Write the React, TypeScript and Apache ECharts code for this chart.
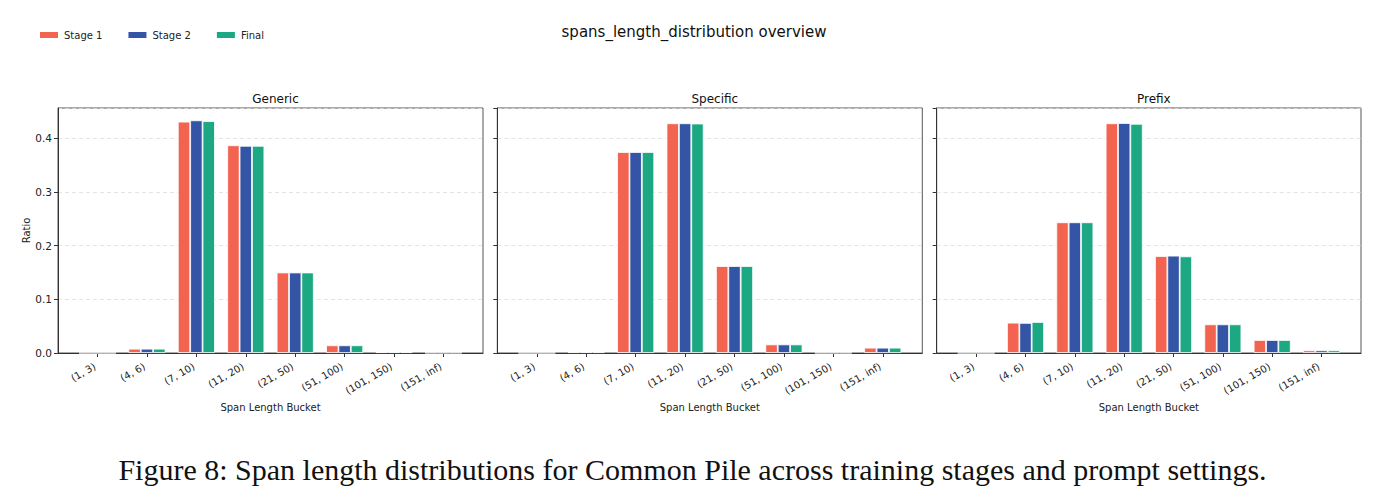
import React, { useEffect, useRef } from "react";
import * as echarts from "echarts";

const categories = ["(1, 3)", "(4, 6)", "(7, 10)", "(11, 20)", "(21, 50)", "(51, 100)", "(101, 150)", "(151, inf)"];
const seriesNames = ["Stage 1", "Stage 2", "Final"];
const colors = ["#F26350", "#3455A5", "#1BA882"];
const panelTitles = ["Generic", "Specific", "Prefix"];

const genericStage1 = [0, 0.008, 0.431, 0.387, 0.150, 0.0143, 0.0018, 0.0003];
const genericStage2 = [0, 0.008, 0.4335, 0.386, 0.150, 0.0143, 0.0018, 0.0003];
const genericFinal = [0, 0.008, 0.432, 0.386, 0.150, 0.0143, 0.0018, 0.0003];

const specificStage1 = [0, 0.002, 0.3745, 0.428, 0.162, 0.016, 0.0002, 0.0099];
const specificStage2 = [0, 0.002, 0.3745, 0.428, 0.162, 0.016, 0.0002, 0.0099];
const specificFinal = [0, 0.002, 0.3745, 0.4275, 0.162, 0.016, 0.0002, 0.0099];

const prefixStage1 = [0, 0.0565, 0.2435, 0.428, 0.1807, 0.0534, 0.0242, 0.005];
const prefixStage2 = [0, 0.056, 0.2435, 0.4285, 0.1813, 0.0534, 0.0242, 0.005];
const prefixFinal = [0, 0.0578, 0.2435, 0.427, 0.180, 0.0534, 0.0242, 0.005];

const panels = [
  [genericStage1, genericStage2, genericFinal],
  [specificStage1, specificStage2, specificFinal],
  [prefixStage1, prefixStage2, prefixFinal],
];

const yMax = 0.4565;
const FONT = "DejaVu Sans";

export default function App() {
  const ref = useRef<HTMLDivElement>(null);
  useEffect(() => {
    if (!ref.current) return;
    const chart = echarts.init(ref.current, null, { renderer: "svg" });
    const frameLefts = [58, 497.3, 936.7];
    const frameWidths = [425, 425, 424.3];
    const top = 108;
    const height = 245;

    const grids: any[] = [];
    const xAxes: any[] = [];
    const yAxes: any[] = [];
    const series: any[] = [];

    frameLefts.forEach((fl, i) => {
      const fw = frameWidths[i];
      const unit = fw / 8.6;
      grids.push({
        left: fl,
        top,
        width: fw,
        height,
        show: true,
        borderColor: "#555",
        borderWidth: 1,
        backgroundColor: "transparent",
      });
      grids.push({
        left: fl + 0.3 * unit,
        top,
        width: 8 * unit,
        height,
        show: false,
      });
      const fg = 2 * i;
      const dg = 2 * i + 1;
      xAxes.push({
        type: "value",
        gridIndex: fg,
        min: 0,
        max: 1,
        axisLine: { show: true, lineStyle: { color: "#333", width: 1 } },
        axisTick: { show: false },
        axisLabel: { show: false },
        splitLine: { show: false },
        name: "Span Length Bucket",
        nameLocation: "middle",
        nameGap: 49,
        nameTextStyle: { fontFamily: FONT, fontSize: 10, color: "#222" },
      });
      xAxes.push({
        type: "category",
        gridIndex: dg,
        data: categories,
        axisLine: { show: false },
        axisTick: { show: true, alignWithLabel: true, length: 4, lineStyle: { color: "#333" } },
        axisLabel: {
          rotate: 30,
          interval: 0,
          fontFamily: FONT,
          fontSize: 10,
          color: "#222",
          margin: 11,
          padding: [0, 3, 0, 0],
        },
        splitLine: { show: false },
      });
      yAxes.push({
        type: "value",
        gridIndex: fg,
        min: 0,
        max: yMax,
        interval: 0.1,
        name: i === 0 ? "Ratio" : "",
        nameLocation: "middle",
        nameGap: 26,
        nameRotate: 90,
        nameTextStyle: { fontFamily: FONT, fontSize: 10, color: "#222" },
        axisLine: { show: true, lineStyle: { color: "#333", width: 1 } },
        axisTick: { show: true, length: 4, lineStyle: { color: "#333" } },
        axisLabel: {
          show: i === 0,
          fontFamily: FONT,
          fontSize: 10.5,
          color: "#222",
          margin: 6,
          showMaxLabel: false,
          formatter: (v: number) => (Math.abs(v * 10 - Math.round(v * 10)) < 1e-6 ? v.toFixed(1) : ""),
        },
        splitLine: { show: true, lineStyle: { color: "#ddd", type: [4, 3], width: 0.8 } },
      });
      yAxes.push({
        type: "value",
        gridIndex: dg,
        min: 0,
        max: yMax,
        show: false,
        splitLine: { show: false },
      });
      panels[i].forEach((vals, s) => {
        series.push({
          type: "bar",
          name: seriesNames[s],
          xAxisIndex: dg,
          yAxisIndex: dg,
          data: vals,
          barWidth: 0.25 * unit,
          barGap: "0%",
          itemStyle: { color: colors[s], borderColor: "#fff", borderWidth: 0.8 },
          emphasis: { disabled: true },
        });
      });
    });

    const titles: any[] = [
      {
        text: "spans_length_distribution overview",
        left: 689,
        top: 19,
        textAlign: "center",
        textStyle: { fontFamily: FONT, fontSize: 15, fontWeight: "normal", color: "#111" },
      },
      ...panelTitles.map((t, i) => ({
        text: t,
        left: frameLefts[i] + frameWidths[i] / 2,
        top: 88,
        textAlign: "center",
        textStyle: { fontFamily: FONT, fontSize: 12, fontWeight: "normal", color: "#111" },
      })),
    ];

    chart.setOption({
      animation: false,
      title: titles,
      legend: {
        data: seriesNames,
        left: 33,
        top: 25,
        itemWidth: 20,
        itemHeight: 8,
        itemGap: 24,
        icon: "rect",
        textStyle: { fontFamily: FONT, fontSize: 10, color: "#222" },
      },
      grid: grids,
      xAxis: xAxes,
      yAxis: yAxes,
      series,
      graphic: [
        {
          type: "text",
          left: "center",
          top: 454,
          style: {
            text: "Figure 8: Span length distributions for Common Pile across training stages and prompt settings.",
            font: '30px "Liberation Serif"',
            fill: "#111",
          },
        },
      ],
    });
    return () => chart.dispose();
  }, []);
  return <div ref={ref} style={{ width: 1385, height: 502, margin: -8 }} />;
}
